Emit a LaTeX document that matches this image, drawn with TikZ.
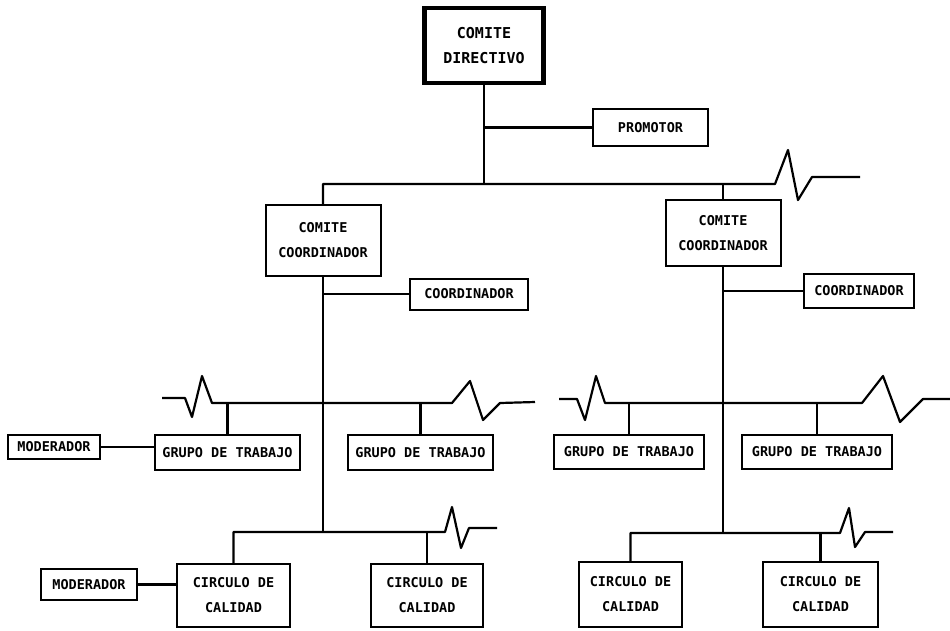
\documentclass[tikz,border=0pt]{standalone}
\usepackage{fontspec}
\setmonofont{DejaVu Sans Mono}
\usetikzlibrary{positioning}

\begin{document}
\begin{tikzpicture}[
  x=1pt, y=-1pt,
  box/.style={rectangle, draw, line width=2pt, inner sep=0pt, align=center,
    font=\ttfamily\bfseries\fontsize{13.5}{25}\selectfont},
  headbox/.style={box, line width=4.5pt, font=\ttfamily\bfseries\fontsize{15}{25}\selectfont},
  link/.style={line width=2.2pt, line join=round}
]
\useasboundingbox (0,0) rectangle (950,630);

% Top level
\node[headbox, minimum width=119pt, minimum height=75pt] (dir) at (484,45.5) {COMITE\\DIRECTIVO};
\node[box, minimum width=115pt, minimum height=37pt] (prom) at (650.5,127.5) {PROMOTOR};
\coordinate (top) at (484,184);

% Coordinating committees
\node[box, minimum width=115pt, minimum height=71pt] (ccL) at (323,240.5) {COMITE\\COORDINADOR};
\node[box, minimum width=118pt, minimum height=31pt] (coordL) at (469,294) {COORDINADOR};
\node[box, minimum width=115pt, minimum height=66pt] (ccR) at (723,233) {COMITE\\COORDINADOR};
\node[box, minimum width=110pt, minimum height=34pt] (coordR) at (859,291) {COORDINADOR};

% Work groups
\node[box, minimum width=92pt, minimum height=24pt] (modG) at (54,447) {MODERADOR};
\node[box, minimum width=145pt, minimum height=35pt] (gtL1) at (227.5,452.5) {GRUPO DE TRABAJO};
\node[box, minimum width=145pt, minimum height=35pt] (gtL2) at (420.5,452.5) {GRUPO DE TRABAJO};
\node[box, minimum width=150pt, minimum height=34pt] (gtR1) at (629,452) {GRUPO DE TRABAJO};
\node[box, minimum width=150pt, minimum height=34pt] (gtR2) at (817,452) {GRUPO DE TRABAJO};
\coordinate (busGL) at (323,403);
\coordinate (busGR) at (723,403);

% Quality circles
\node[box, minimum width=96pt, minimum height=31pt] (modC) at (89,584.5) {MODERADOR};
\node[box, minimum width=113pt, minimum height=63pt] (ccL1) at (233.5,595.5) {CIRCULO DE\\CALIDAD};
\node[box, minimum width=112pt, minimum height=63pt] (ccL2) at (427,595.5) {CIRCULO DE\\CALIDAD};
\node[box, minimum width=103pt, minimum height=65pt] (ccR1) at (630.5,594.5) {CIRCULO DE\\CALIDAD};
\node[box, minimum width=115pt, minimum height=65pt] (ccR2) at (820.5,594.5) {CIRCULO DE\\CALIDAD};
\coordinate (busCL) at (323,532);
\coordinate (busCR) at (723,533);

% Top connections
\draw[link] (dir.south) -- (top);
\draw[link] (dir.south |- prom.west) -- (prom.west);
\draw[link] (ccL.north) -- (ccL.north |- top) -- (775,184) -- (788,150) -- (798,200) -- (812,177) -- (860,177);
\draw[link] (ccR.north) -- (ccR.north |- top);

% Left branch
\draw[link] (ccL.south) -- (busCL);
\draw[link] (ccL.south |- coordL.west) -- (coordL.west);
\draw[link] (162,398) -- (185,398) -- (192,417) -- (202,376) -- (212,403) -- (452,403)
  -- (470,381) -- (483,420) -- (500,403) -- (535,402);
\draw[link] (gtL1.north) -- (gtL1.north |- busGL);
\draw[link] (gtL2.north) -- (gtL2.north |- busGL);
\draw[link] (modG.east) -- (modG.east -| gtL1.west);
\draw[link] (ccL1.north) -- (ccL1.north |- busCL) -- (445,532) -- (452,507) -- (461,548) -- (469,528) -- (497,528);
\draw[link] (ccL2.north) -- (ccL2.north |- busCL);
\draw[link] (modC.east) -- (modC.east -| ccL1.west);

% Right branch
\draw[link] (ccR.south) -- (busCR);
\draw[link] (ccR.south |- coordR.west) -- (coordR.west);
\draw[link] (559,399) -- (577,399) -- (585,420) -- (596,376) -- (605,403) -- (862,403)
  -- (883,376) -- (900,422) -- (923,399) -- (950,399);
\draw[link] (gtR1.north) -- (gtR1.north |- busGR);
\draw[link] (gtR2.north) -- (gtR2.north |- busGR);
\draw[link] (ccR1.north) -- (ccR1.north |- busCR) -- (840,533) -- (849,508) -- (855,547) -- (865,532) -- (893,532);
\draw[link] (ccR2.north) -- (ccR2.north |- busCR);

\end{tikzpicture}
\end{document}
